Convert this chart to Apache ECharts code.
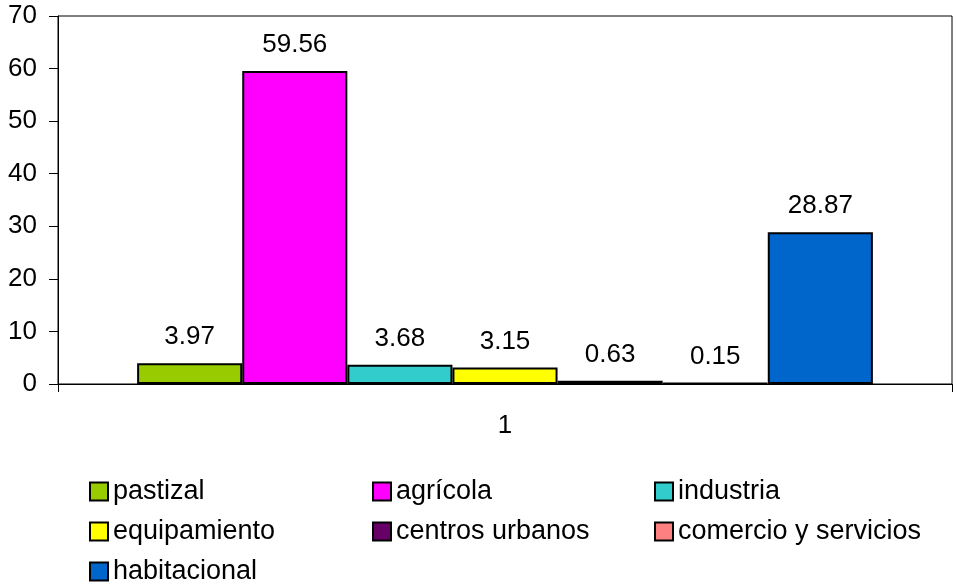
<!DOCTYPE html>
<html>
<head>
<meta charset="utf-8">
<script src="https://cdn.jsdelivr.net/npm/echarts@6/dist/echarts.min.js"></script>
<style>html,body{margin:0;padding:0;background:#fff}#c{width:953px;height:586px}</style>
</head>
<body>
<div id="c"></div>
<script>
const categories = ['1'];
const seriesNames = ['pastizal','agrícola','industria','equipamiento','centros urbanos','comercio y servicios','habitacional'];
const seriesValues = [3.97, 59.56, 3.68, 3.15, 0.63, 0.15, 28.87];
const seriesColors = ['#99CC00','#FF00FF','#33CCCC','#FFFF00','#660066','#FF8080','#0066CC'];
const yTicks = [0,10,20,30,40,50,60,70];

const FONT = 'Liberation Sans, Arial, sans-serif';
const chart = echarts.init(document.getElementById('c'), null, {renderer:'canvas'});

const series = seriesNames.map((n,i)=>({
  name:n, type:'bar', data:[seriesValues[i]],
  barGap:'0%', barCategoryGap:'17.7%',
  itemStyle:{color:seriesColors[i], borderColor:'#000', borderWidth:2},
  label:{show:true, position:'top', distance:13, color:'#000', fontSize:26, fontFamily:FONT,
    formatter:p=>p.value.toFixed(2)}
}));

const legendCommon = {
  orient:'vertical', padding:0, itemGap:13, itemWidth:18, itemHeight:18, icon:'rect',
  height:120,
  textStyle:{color:'#000', fontSize:27, fontFamily:FONT},
  itemStyle:{borderColor:'#000', borderWidth:2},
  selectedMode:false
};

chart.setOption({
  animation:false,
  backgroundColor:'#fff',
  grid:{left:58, right:1, top:16, bottom:202, show:true, borderColor:'#000', borderWidth:1, backgroundColor:'transparent'},
  xAxis:{type:'category', data:categories, boundaryGap:true,
    axisLine:{lineStyle:{color:'#000', width:1}},
    axisTick:{show:true, length:8, lineStyle:{color:'#000'}},
    axisLabel:{color:'#000', fontSize:26, fontFamily:FONT, margin:29}},
  yAxis:{type:'value', min:yTicks[0], max:yTicks[yTicks.length-1], interval:10,
    splitLine:{show:false},
    axisLine:{show:true, lineStyle:{color:'#000', width:1}},
    axisTick:{show:true, length:9, lineStyle:{color:'#000'}},
    axisLabel:{color:'#000', fontSize:26, fontFamily:FONT, margin:21}},
  legend:[
    Object.assign({}, legendCommon, {left:89, top:478, data:[seriesNames[0],seriesNames[3],seriesNames[6]]}),
    Object.assign({}, legendCommon, {left:372, top:478, data:[seriesNames[1],seriesNames[4]]}),
    Object.assign({}, legendCommon, {left:654, top:478, data:[seriesNames[2],seriesNames[5]]})
  ],
  series:series
});
</script>
</body>
</html>
